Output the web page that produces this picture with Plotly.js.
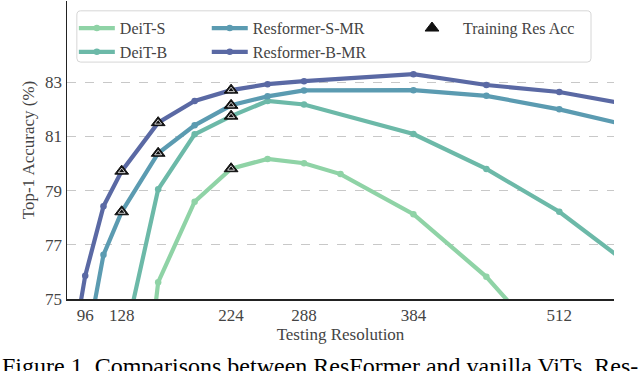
<!DOCTYPE html>
<html>
<head>
<meta charset="utf-8">
<script src="https://cdn.plot.ly/plotly-3.0.1.min.js"></script>
<style>
html,body{margin:0;padding:0;background:#fff;}
#chart{width:640px;height:371px;}
</style>
</head>
<body>
<div id="chart"></div>
<script>
// ---- data ----
const resDeitS = [128, 160, 192, 224, 256, 288, 320, 384, 448, 512];
const accDeitS = [64.0, 75.62, 78.59, 79.81, 80.17, 80.01, 79.61, 78.13, 75.82, 72.8];

const resDeitB = [128, 160, 192, 224, 256, 288, 384, 448, 512, 576];
const accDeitB = [73.0, 79.05, 81.08, 81.75, 82.31, 82.18, 81.09, 79.80, 78.22, 76.18];

const resSMR = [96, 112, 128, 160, 192, 224, 256, 288, 384, 448, 512, 576];
const accSMR = [73.0, 76.63, 78.22, 80.38, 81.41, 82.15, 82.48, 82.70, 82.71, 82.50, 82.00, 81.37];

const resBMR = [64, 96, 112, 128, 160, 192, 224, 256, 288, 384, 448, 512, 576];
const accBMR = [68.0, 75.86, 78.42, 79.72, 81.51, 82.31, 82.71, 82.93, 83.04, 83.30, 82.90, 82.64, 82.16];

const resTrain = [128, 128, 160, 160, 224, 224, 224, 224];
const accTrain = [79.72, 78.22, 81.51, 80.38, 82.71, 82.15, 81.75, 79.81];

const xTicks = [96, 128, 224, 288, 384, 512];
const yTicks = [75, 77, 79, 81, 83];

const names = ['DeiT-S', 'DeiT-B', 'Resformer-S-MR', 'Resformer-B-MR', 'Training Res Acc'];
const caption = 'Figure 1. Comparisons between ResFormer and vanilla ViTs. Res-';

// ---- styling ----
const colors = ['#8fd3a6', '#6cb9a8', '#5b9bb1', '#5a69a4'];
const FONT = '"Liberation Serif", "DejaVu Serif", serif';

function lineTrace(x, y, name, color, legend) {
  return {
    type: 'scatter', mode: 'lines+markers', x: x, y: y, name: name,
    line: {color: color, width: 4.2},
    marker: {color: color, size: 6.5},
    legend: legend,
    hoverinfo: 'skip'
  };
}

const data = [
  lineTrace(resDeitS, accDeitS, names[0], colors[0], 'legend'),
  lineTrace(resDeitB, accDeitB, names[1], colors[1], 'legend'),
  lineTrace(resSMR, accSMR, names[2], colors[2], 'legend2'),
  lineTrace(resBMR, accBMR, names[3], colors[3], 'legend2'),
  {
    type: 'scatter', mode: 'markers', x: resTrain, y: accTrain,
    name: names[4],
    marker: {symbol: 'triangle-up', size: 12, color: '#111', line: {color: '#111', width: 1}},
    legend: 'legend3', hoverinfo: 'skip'
  },
  {
    type: 'scatter', mode: 'markers', x: resTrain, y: accTrain,
    showlegend: false,
    marker: {symbol: 'triangle-up-open', size: 6, color: '#fff', line: {color: '#fff', width: 0.8}},
    hoverinfo: 'skip'
  }
];

const legendBase = {
  orientation: 'v', xanchor: 'left', yanchor: 'top', y: 0.966,
  bgcolor: 'rgba(0,0,0,0)', borderwidth: 0,
  font: {family: FONT, size: 16, color: '#444'},
  itemwidth: 36, tracegroupgap: 0, itemclick: false, itemdoubleclick: false
};

const layout = {
  width: 640, height: 371,
  margin: {l: 67, r: 26, t: 1, b: 72},
  paper_bgcolor: '#fff', plot_bgcolor: '#fff',
  font: {family: FONT, color: '#444'},
  showlegend: true,
  legend: Object.assign({}, legendBase, {x: 0.0125}),
  legend2: Object.assign({}, legendBase, {x: 0.2555}),
  legend3: Object.assign({}, legendBase, {x: 0.6106, itemwidth: 52}),
  xaxis: {
    range: [80, 560], tickvals: xTicks, ticktext: xTicks.map(String),
    showgrid: false, zeroline: false, showline: true, linecolor: '#222', linewidth: 1.5,
    ticks: '', tickfont: {family: FONT, size: 17, color: '#444'},
    title: {text: 'Testing Resolution', font: {family: FONT, size: 17, color: '#444'}, standoff: 4}
  },
  yaxis: {
    range: [75, 86], tickvals: yTicks, ticktext: yTicks.map(String),
    showgrid: true, gridcolor: '#c8c8c8', griddash: 'dash', gridwidth: 1,
    zeroline: false, showline: true, linecolor: '#222', linewidth: 1.5,
    ticks: '', tickfont: {family: FONT, size: 17, color: '#444'},
    title: {text: 'Top-1 Accuracy (%)', font: {family: FONT, size: 17, color: '#444'}, standoff: 6}
  },
  shapes: [{
    type: 'path', xref: 'paper', yref: 'paper',
    path: 'M 0.025 0.967 L 0.951 0.967 Q 0.958 0.967 0.958 0.953 L 0.958 0.808 Q 0.958 0.795 0.951 0.795 L 0.025 0.795 Q 0.018 0.795 0.018 0.808 L 0.018 0.953 Q 0.018 0.967 0.025 0.967 Z',
    line: {color: '#d6d6d6', width: 1}, fillcolor: 'rgba(255,255,255,0.85)', layer: 'above'
  }],
  annotations: [{
    xref: 'paper', yref: 'paper', x: -0.1225, y: -0.1745, xanchor: 'left', yanchor: 'top',
    text: caption, showarrow: false, font: {family: FONT, size: 24, color: '#000'}
  }]
};

Plotly.newPlot('chart', data, layout, {displayModeBar: false, staticPlot: true});
</script>
</body>
</html>
